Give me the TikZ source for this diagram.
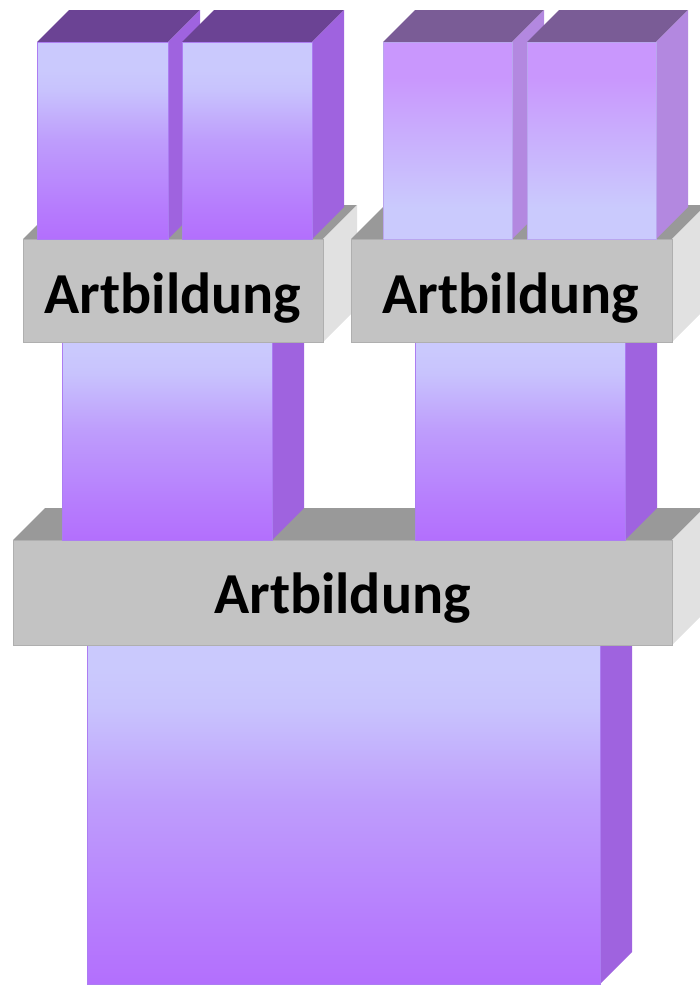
\documentclass[tikz,border=0pt]{standalone}
\usepackage{fontspec}
\setmainfont{Carlito}
\usetikzlibrary{calc}

% colours
\definecolor{violetTop}{HTML}{6B4394}
\definecolor{violetSide}{HTML}{9F63DF}
\definecolor{violetEdge}{HTML}{AC7DF2}
\definecolor{lilacTop}{HTML}{7A5C96}
\definecolor{lilacSide}{HTML}{B388E0}
\definecolor{lilacEdge}{HTML}{B9A6EE}
\definecolor{slabTop}{HTML}{999999}
\definecolor{slabFront}{HTML}{C3C3C3}
\definecolor{slabSide}{HTML}{E1E1E1}
\definecolor{slabEdge}{HTML}{AFAFAF}
\definecolor{paleA}{HTML}{CAC9FD}
\definecolor{paleB}{HTML}{C8C3FD}
\definecolor{paleC}{HTML}{BE9DFC}
\definecolor{paleD}{HTML}{B67CFD}
\definecolor{paleE}{HTML}{B36FFD}
\definecolor{mauveA}{HTML}{C997FD}
\definecolor{mauveB}{HTML}{C9ADFD}
\definecolor{mauveC}{HTML}{CACAFD}

% front gradients (path occupies 25bp..75bp of the shading)
\pgfdeclareverticalshading{frontdown}{100bp}{%
  color(0bp)=(paleE); color(25bp)=(paleE); color(33bp)=(paleD);
  color(50bp)=(paleC); color(63bp)=(paleB); color(68bp)=(paleA);
  color(100bp)=(paleA)}
\pgfdeclareverticalshading{frontup}{100bp}{%
  color(0bp)=(mauveC); color(33bp)=(mauveC); color(52bp)=(mauveB);
  color(66bp)=(mauveA); color(100bp)=(mauveA)}

\tikzset{
  x=1pt, y=-1pt,
  vtop/.style={fill=violetTop},
  vside/.style={fill=violetSide},
  vfront/.style={shading=frontdown, draw=violetEdge, line width=0.7pt},
  ltop/.style={fill=lilacTop},
  lside/.style={fill=lilacSide},
  lfront/.style={shading=frontup, draw=lilacEdge, line width=0.7pt},
  stop/.style={fill=slabTop},
  sside/.style={fill=slabSide},
  sfront/.style={fill=slabFront, draw=slabEdge, line width=0.8pt},
  caption/.style={font=\bfseries\fontsize{58}{60}\selectfont, text=black,
                  anchor=base, inner sep=0pt},
}

% cuboid: front top-left (#1,#2), front bottom-right (#3,#4), depth #5,
% styles for top (#6), right side (#7) and front (#8)
\newcommand\cuboid[8]{%
  \path[#6] (#1,#2) -- (#1+#5,#2-#5) -- (#3+#5,#2-#5) -- (#3,#2) -- cycle;
  \path[#7] (#3,#2) -- (#3+#5,#2-#5) -- (#3+#5,#4-#5) -- (#3,#4) -- cycle;
  \path[#8] (#1,#2) rectangle (#3,#4);
}

\begin{document}
\begin{tikzpicture}
\clip (0,0) rectangle (700,985);

% base block
\cuboid{87}{620}{600}{984}{32}{vtop}{vside}{vfront}

% lower slab
\cuboid{13}{540}{672}{645}{32}{stop}{sside}{sfront}
\node[caption] (lower) at (342.5,613) {Artbildung};

% middle blocks resting on the lower slab
\cuboid{62}{320}{272}{540}{32}{vtop}{vside}{vfront}
\cuboid{415}{320}{625}{540}{32}{vtop}{vside}{vfront}

% upper slabs
\cuboid{23}{239}{323}{342}{34}{stop}{sside}{sfront}
\node[caption] (upperleft) at (173,313) {Artbildung};
\cuboid{351}{239}{672}{342}{34}{stop}{sside}{sfront}
\node[caption] (upperright) at (511,313) {Artbildung};

% top blocks
\cuboid{37}{42}{168}{239}{32}{vtop}{vside}{vfront}
\cuboid{182}{42}{312}{239}{32}{vtop}{vside}{vfront}
\cuboid{383}{42}{512}{239}{32}{ltop}{lside}{lfront}
\cuboid{527}{42}{656}{239}{32}{ltop}{lside}{lfront}
\end{tikzpicture}
\end{document}
